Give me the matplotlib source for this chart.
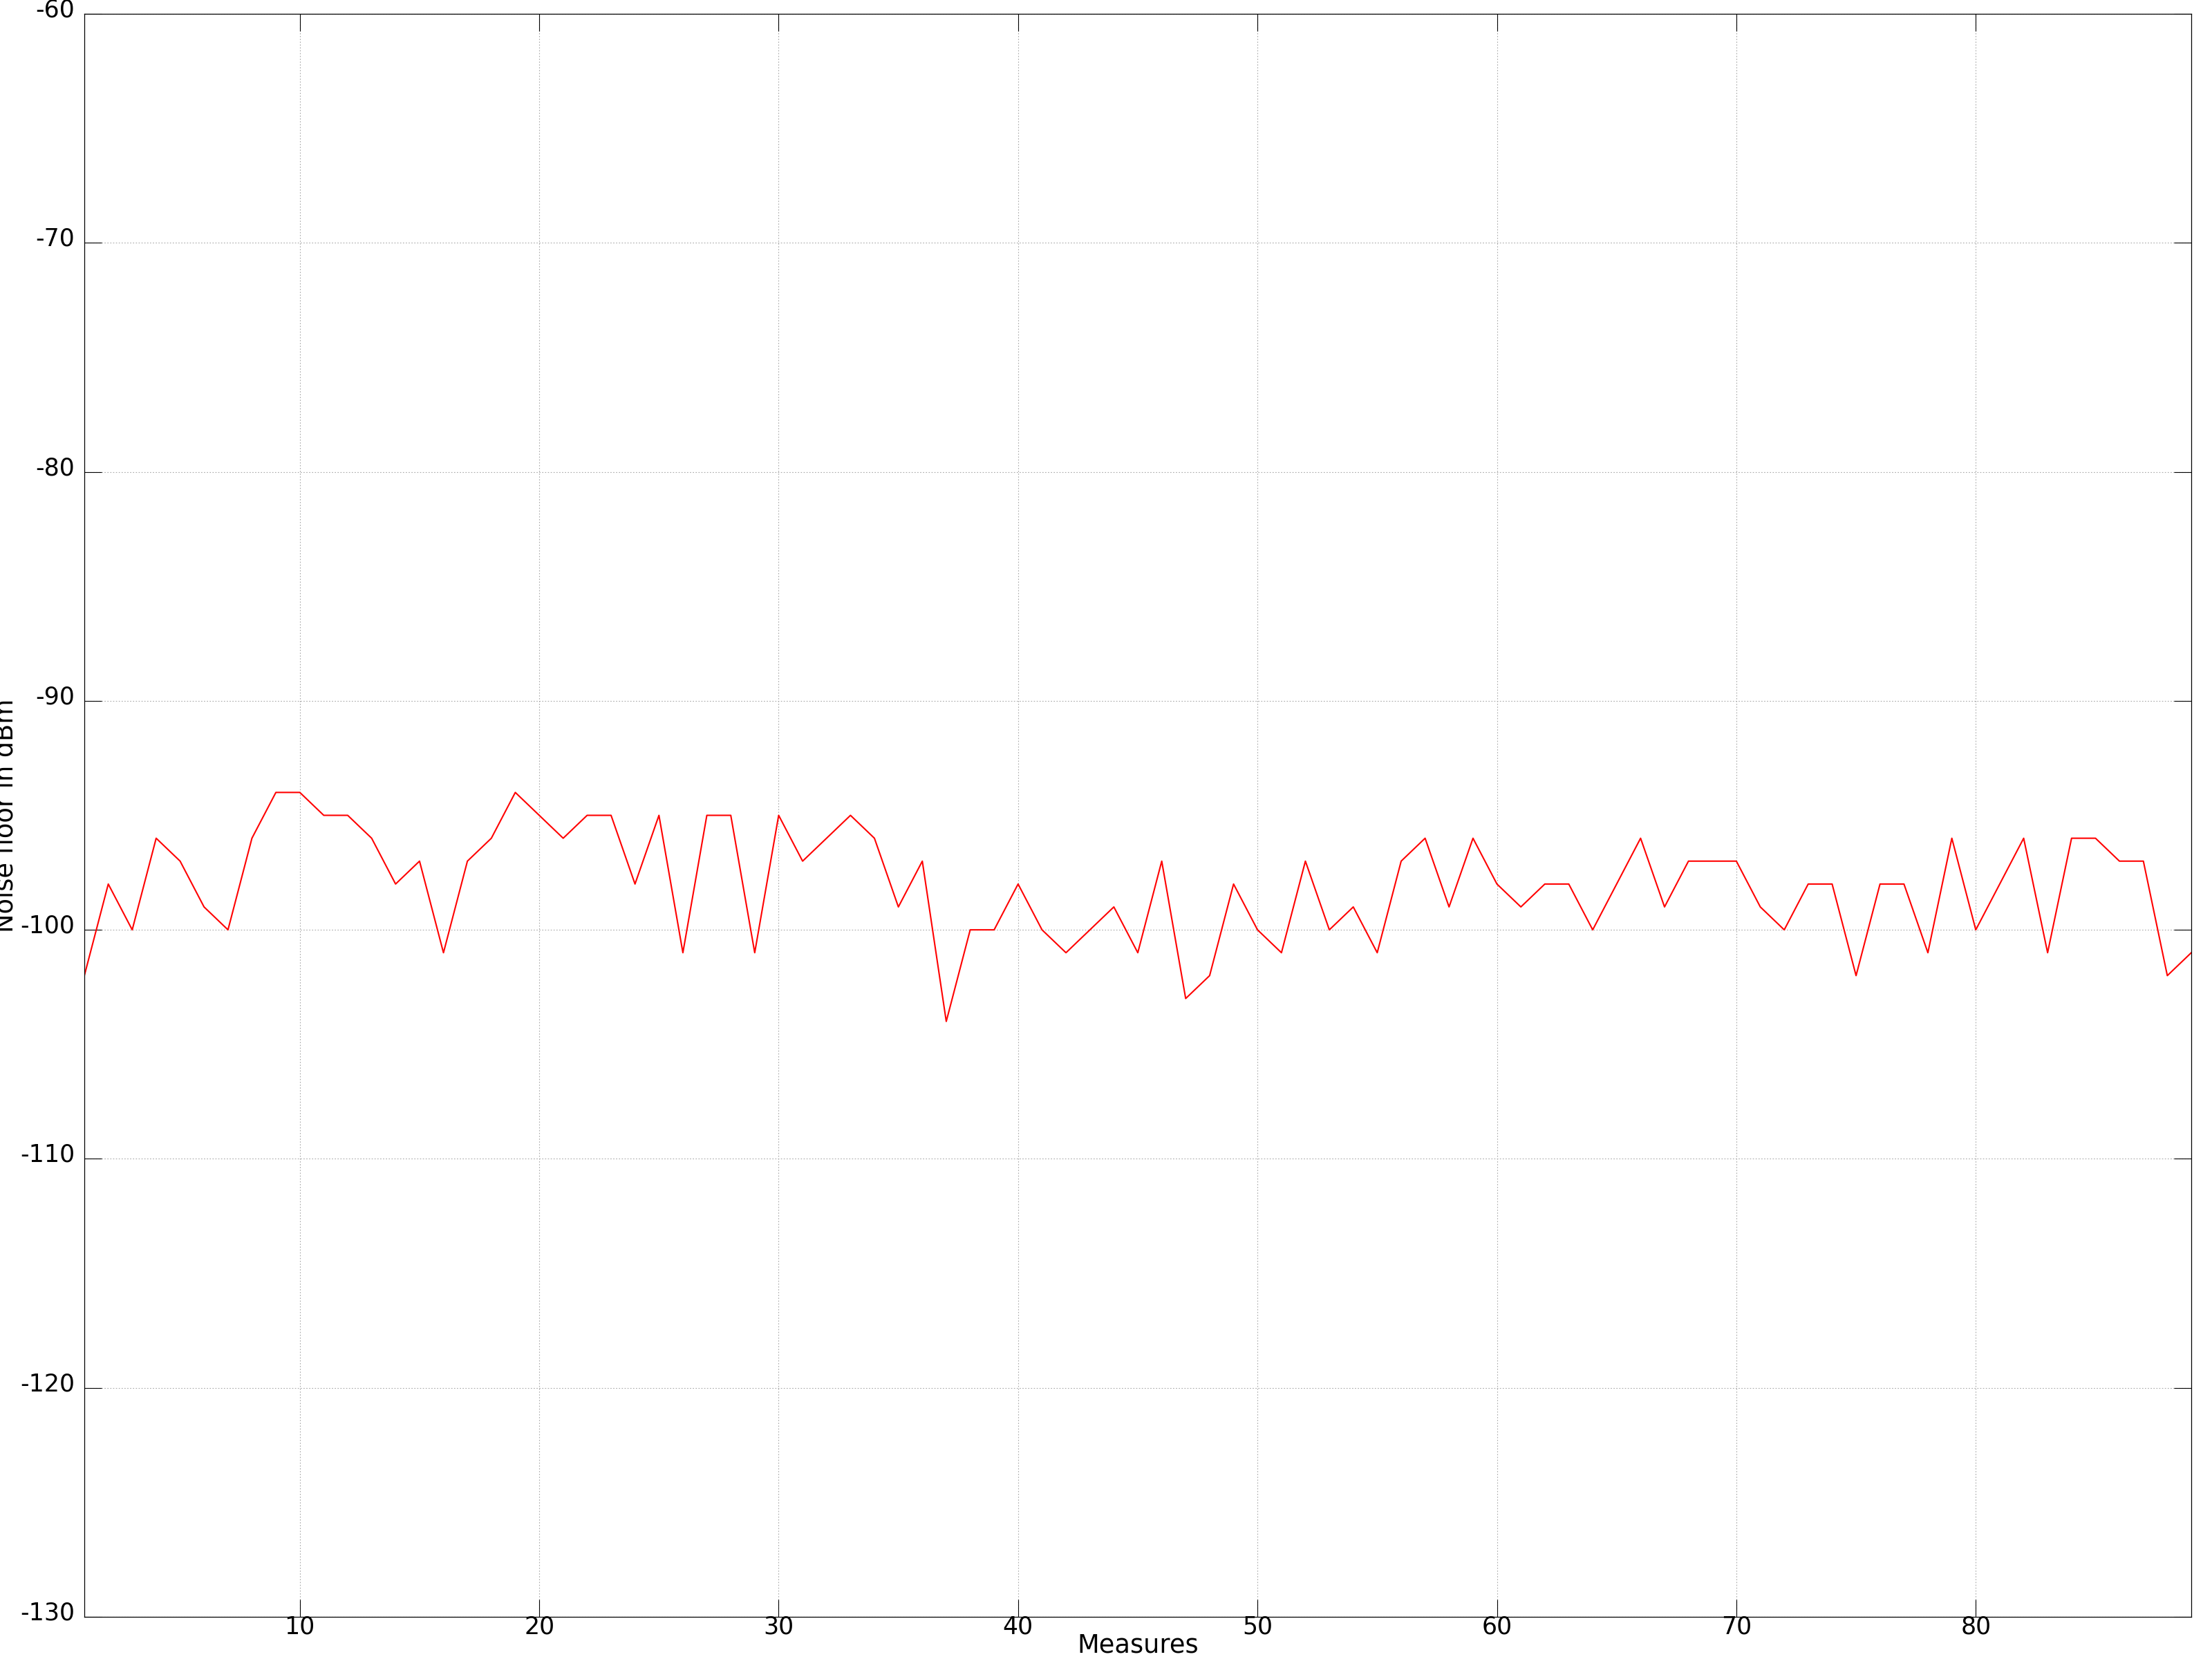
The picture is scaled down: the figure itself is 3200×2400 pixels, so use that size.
import numpy as np
import matplotlib
matplotlib.use("Agg")
import matplotlib.pyplot as plt
from matplotlib.transforms import ScaledTranslation

# noise floor per measure, dBm
measures = np.arange(1, 90)
noise_dbm = [
    -102, -98, -100, -96, -97, -99, -100, -96, -94, -94,
    -95, -95, -96, -98, -97, -101, -97, -96, -94, -95,
    -96, -95, -95, -98, -95, -101, -95, -95, -101, -95,
    -97, -96, -95, -96, -99, -97, -104, -100, -100, -98,
    -100, -101, -100, -99, -101, -97, -103, -102, -98, -100,
    -101, -97, -100, -99, -101, -97, -96, -99, -96, -98,
    -99, -98, -98, -100, -98, -96, -99, -97, -97, -97,
    -99, -100, -98, -98, -102, -98, -98, -101, -96, -100,
    -98, -96, -101, -96, -96, -97, -97, -102, -101,
]
xticks = list(range(10, 90, 10))
yticks = list(range(-130, -50, 10))

plt.rcParams['axes.unicode_minus'] = False

fig = plt.figure(figsize=(32, 24), dpi=100)
ax = fig.add_axes([122 / 3200, 1 - 2339 / 2400, 3048 / 3200, 2319 / 2400])

ax.plot(measures, noise_dbm, color='red', linewidth=1.5)

ax.set_xlim(1, 89)
ax.set_ylim(-130, -60)
ax.set_xticks(xticks)
ax.set_yticks(yticks)
ax.grid(True, color='#a8a8a8', linewidth=0.8, linestyle=(0, (1.5, 2.2)))

ax.tick_params(direction='in', length=18, width=0.8, top=True, right=True,
               labelsize=25)
ax.tick_params(axis='x', pad=-2)
ax.tick_params(axis='y', pad=10)
for s in ax.spines.values():
    s.set_linewidth(0.9)

# y tick labels sit a little above their ticks
up = ScaledTranslation(0, 9 / 100, fig.dpi_scale_trans)
for lab in ax.get_yticklabels():
    lab.set_transform(lab.get_transform() + up)

ax.set_xlabel('Measures', fontsize=26.5)
ax.set_ylabel('Noise floor in dBm', fontsize=26.5)
ax.xaxis.set_label_coords(0.5, -0.0099)
ax.yaxis.set_label_coords(-0.0312, 0.5)

fig.savefig('out.png', dpi=100)
